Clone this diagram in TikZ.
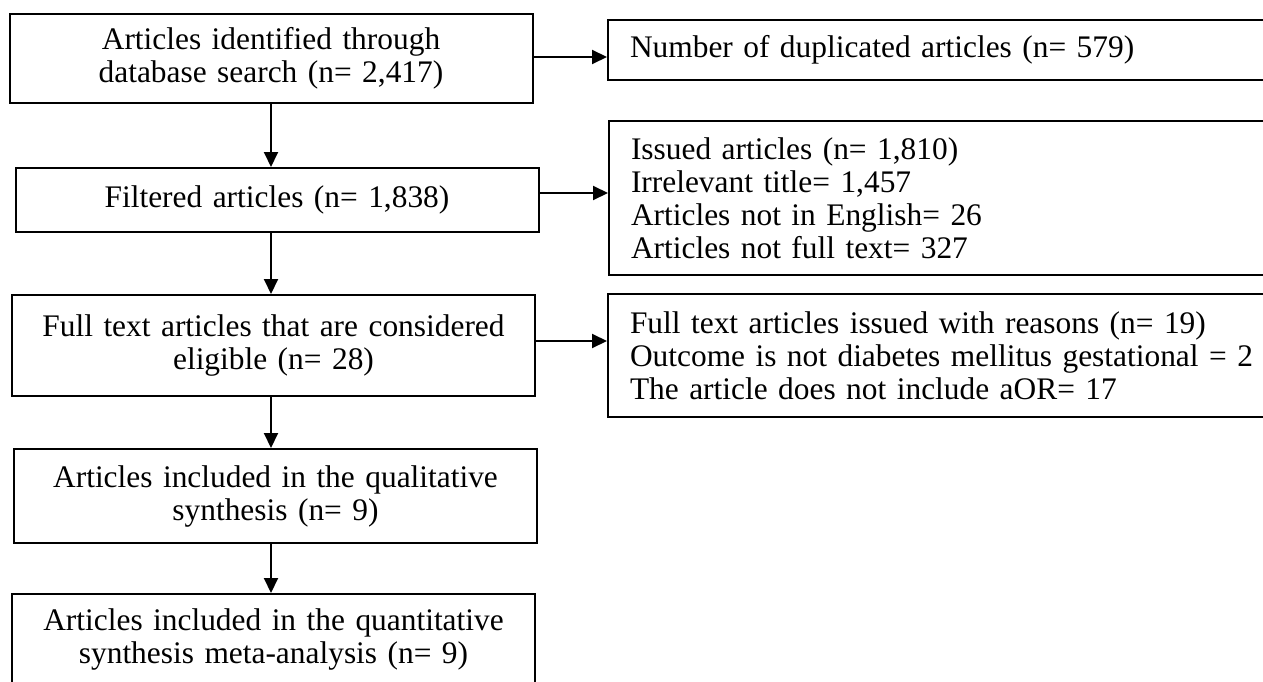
\documentclass[tikz,border=0pt]{standalone}
\usepackage{fontspec}
\setmainfont{Liberation Serif}
\usetikzlibrary{arrows.meta}
\begin{document}
\begin{tikzpicture}[x=1pt,y=-1pt,
  box/.style={draw, line width=2pt, font=\fontsize{31.4}{33}\selectfont, inner sep=0pt, align=center},
  lbox/.style={box, minimum width=523pt, text width=500pt},
  rbox/.style={draw, line width=2pt, font=\fontsize{31.4}{33}\selectfont, anchor=west,
    minimum width=700pt, text width=656pt, inner xsep=22pt, inner ysep=0pt, align=left},
  arr/.style={line width=2pt, -{Triangle[length=15pt,width=14pt]}}]
\useasboundingbox (0,0) rectangle (1263,682);
\clip (0,0) rectangle (1263,682);
\fill[white] (0,0) rectangle (1263,682);
% left column
\node[lbox, minimum height=89pt]  (b1) at (271,58.5)  {Articles identified through\\database search (n= 2,417)};
\node[lbox, minimum height=64pt]  (b2) at (277,200)   {Filtered articles (n= 1,838)};
\node[lbox, minimum height=101pt] (b3) at (273.5,345.5) {Full text articles that are considered\\eligible (n= 28)};
\node[lbox, minimum height=94pt]  (b4) at (275.5,496) {Articles included in the qualitative\\synthesis (n= 9)};
\node[lbox, minimum height=90pt]  (b5) at (273.5,639) {Articles included in the quantitative\\synthesis meta-analysis (n= 9)};
% right column
\node[rbox, minimum height=60pt]  (r1) at (607,50)    {Number of duplicated articles (n= 579)};
\node[rbox, minimum height=154pt] (r2) at (608,198)   {Issued articles (n= 1,810)\\Irrelevant title= 1,457\\Articles not in English= 26\\Articles not full text= 327};
\node[rbox, minimum height=123pt] (r3) at (607,355.5) {Full text articles issued with reasons (n= 19)\\Outcome is not diabetes mellitus gestational = 2\\The article does not include aOR= 17};
% vertical arrows
\draw[arr] (b1.south) -- (b1.south |- b2.north);
\draw[arr] (b1.south |- b2.south) -- (b1.south |- b3.north);
\draw[arr] (b1.south |- b3.south) -- (b1.south |- b4.north);
\draw[arr] (b1.south |- b4.south) -- (b1.south |- b5.north);
% horizontal arrows
\draw[arr] ([yshift=1.5pt]b1.east) -- ([yshift=1.5pt]b1.east -| r1.west);
\draw[arr] ([yshift=7pt]b2.east) -- ([yshift=7pt]b2.east -| r2.west);
\draw[arr] ([yshift=4.5pt]b3.east) -- ([yshift=4.5pt]b3.east -| r3.west);
\end{tikzpicture}
\end{document}
